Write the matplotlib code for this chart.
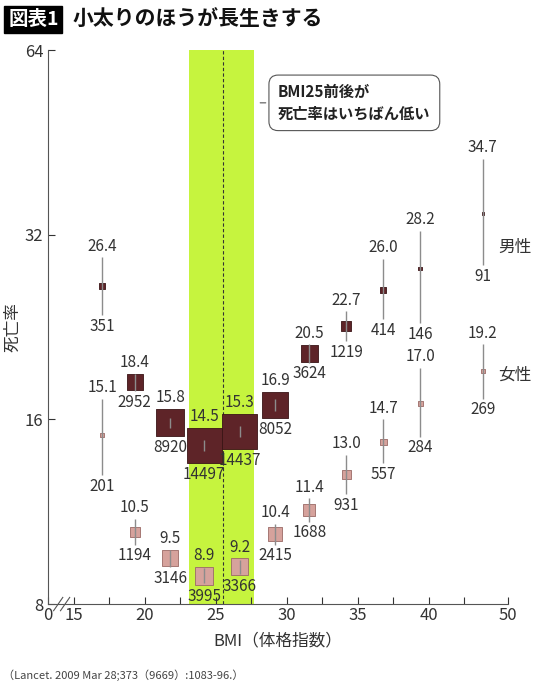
import numpy as np
import matplotlib.pyplot as plt

plt.rcParams['font.family'] = ['Noto Sans CJK JP', 'DejaVu Sans']

# BMI class midpoints
bmi = [17.0, 19.3, 21.8, 24.2, 26.7, 29.2, 31.6, 34.2, 36.8, 39.4, 45.7]

male_rate = [26.4, 18.4, 15.8, 14.5, 15.3, 16.9, 20.5, 22.7, 26.0, 28.2, 34.7]
male_lo = [23.7, 17.8, 15.5, 14.2, 15.0, 16.5, 19.8, 21.5, 23.3, 23.0, 28.6]
male_hi = [29.4, 19.0, 16.1, 14.8, 15.6, 17.3, 21.2, 24.0, 29.2, 32.5, 42.5]
male_n = [351, 2952, 8920, 14497, 14437, 8052, 3624, 1219, 414, 146, 91]

female_rate = [15.1, 10.5, 9.5, 8.9, 9.2, 10.4, 11.4, 13.0, 14.7, 17.0, 19.2]
female_lo = [13.0, 10.0, 9.2, 8.65, 8.95, 10.0, 10.9, 12.1, 13.6, 15.0, 17.3]
female_hi = [17.3, 11.0, 9.8, 9.15, 9.45, 10.8, 11.9, 14.0, 16.0, 19.4, 21.2]
female_n = [201, 1194, 3146, 3995, 3366, 2415, 1688, 931, 557, 284, 269]

# axis break: 0..15 squeezed, 42.5..50 compressed
xb_data = [0, 15, 42.5, 50]
xb_pos = [13.2, 15, 42.5, 45.6]


def fwd(x):
    return np.interp(x, xb_data, xb_pos, left=xb_pos[0] - 1, right=xb_pos[-1] + 1)


def inv(x):
    return np.interp(x, xb_pos, xb_data, left=-1, right=51)


fig = plt.figure(figsize=(5.4, 6.88), dpi=100)
ax = fig.add_axes([0.089, 0.122, 0.852, 0.805])
ax.set_xscale('function', functions=(fwd, inv))
ax.set_yscale('log', base=2)
ax.set_xlim(0, 50)
ax.set_ylim(8, 64)

ax.axvspan(23.1, 27.7, color='#c6f43e', zorder=0, lw=0)
ax.axvline(25.5, color='#333333', ls=(0, (3, 2)), lw=0.8, zorder=1)


def draw(rates, lo, hi, n, face, edge):
    side = [0.29 * np.sqrt(v) * 0.72 for v in n]
    ax.scatter(bmi, rates, s=[s ** 2 for s in side], marker='s', c=face,
               edgecolors=edge, linewidths=0.6, zorder=3)
    ax.vlines(bmi, lo, hi, colors='#8c8c8c', lw=1.0, zorder=4)
    for x, r, l, h, c, s in zip(bmi, rates, lo, hi, n, side):
        top = max(h, r * 2 ** (s / 2 / 72 * 100 / 184))
        bot = min(l, r / 2 ** (s / 2 / 72 * 100 / 184))
        ax.annotate(f'{r}', (x, top), xytext=(0, 2), textcoords='offset points',
                    ha='center', va='bottom', fontsize=11, color='#333333')
        ax.annotate(f'{c}', (x, bot), xytext=(0, -2), textcoords='offset points',
                    ha='center', va='top', fontsize=11, color='#333333')


draw(male_rate, male_lo, male_hi, male_n, '#5e2428', '#3a1416')
draw(female_rate, female_lo, female_hi, female_n, '#d6a29c', '#9a6a66')

ax.text(48.3, 30.5, '男性', fontsize=12, va='center', color='#333333')
ax.text(48.3, 18.9, '女性', fontsize=12, va='center', color='#333333')

ax.set_yticks([8, 16, 32, 64])
ax.set_yticklabels(['8', '16', '32', '64'])
ax.set_xticks([0, 15, 20, 25, 30, 35, 40, 50])
ax.set_xticklabels(['0', '15', '20', '25', '30', '35', '40', '50'])
ax.set_xticks([17.5, 22.5, 27.5, 32.5, 37.5, 42.5], minor=True)
ax.tick_params(which='both', direction='in', length=5, labelsize=12,
               colors='#333333', width=0.8)
ax.tick_params(axis='y', which='minor', left=False)
ax.tick_params(axis='x', which='major', pad=2)
for sp in ['top', 'right']:
    ax.spines[sp].set_visible(False)
for sp in ['left', 'bottom']:
    ax.spines[sp].set_color('#555555')
    ax.spines[sp].set_linewidth(0.8)

# break marks on x axis
for dx in [0.022, 0.037]:
    ax.plot([dx - 0.01, dx + 0.01], [-0.012, 0.012], transform=ax.transAxes,
            color='#555555', lw=0.8, clip_on=False)

ax.set_xlabel('BMI（体格指数）', fontsize=12, color='#333333', labelpad=6)
ax.set_ylabel('死亡率', fontsize=12, color='#333333', labelpad=2)

ax.annotate('BMI25前後が\n死亡率はいちばん低い', xy=(0.455, 0.905),
            xycoords='axes fraction', xytext=(0.5, 0.905),
            fontsize=11, fontweight='bold', va='center', ha='left', linespacing=1.4,
            color='#222222',
            bbox=dict(boxstyle='round,pad=0.6', fc='white', ec='#555555', lw=0.8),
            arrowprops=dict(arrowstyle='-', color='#555555', lw=0.8))

fig.text(0.015, 0.972, '図表1', fontsize=14, fontweight='bold', color='white',
         va='center', bbox=dict(boxstyle='square,pad=0.2', fc='black', ec='black'))
fig.text(0.135, 0.972, '小太りのほうが長生きする', fontsize=15, fontweight='bold',
         color='#111111', va='center')
fig.text(0.005, 0.018, '（Lancet. 2009 Mar 28;373（9669）:1083-96.）', fontsize=8,
         color='#444444', va='center')

fig.savefig('out.png', dpi=100)
